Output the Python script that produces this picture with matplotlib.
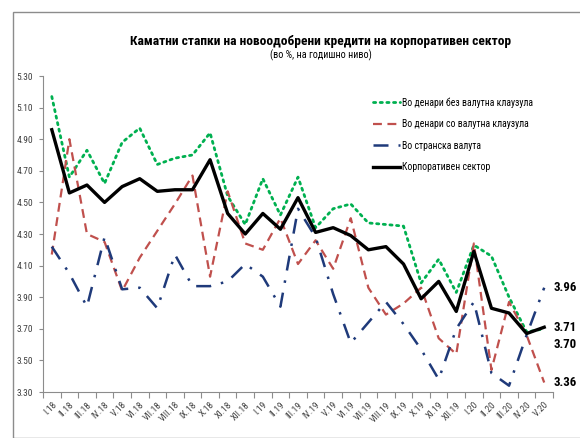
import matplotlib
matplotlib.use("Agg")
import matplotlib.pyplot as plt
import numpy as np
from matplotlib.patches import Rectangle

plt.rcParams['font.family'] = ['Roboto Condensed', 'Roboto', 'DejaVu Sans']

months = ['I.18', 'II.18', 'III.18', 'IV.18', 'V.18', 'VI.18', 'VII.18', 'VIII.18', 'IX.18',
          'X.18', 'XI.18', 'XII.18', 'I.19', 'II.19', 'III.19', 'IV.19', 'V.19', 'VI.19',
          'VII.19', 'VIII.19', 'IX.19', 'X.19', 'XI.19', 'XII.19', 'I.20', 'II.20', 'III.20',
          'IV.20', 'V.20']

denars_no_clause = [5.17, 4.66, 4.83, 4.62, 4.88, 4.97, 4.74, 4.78, 4.80, 4.94, 4.54, 4.36,
                    4.65, 4.42, 4.66, 4.34, 4.46, 4.49, 4.37, 4.36, 4.35, 3.99, 4.14, 3.93,
                    4.23, 4.16, 3.90, 3.68, 3.70]
denars_clause = [4.17, 4.90, 4.30, 4.25, 3.94, 4.15, 4.32, 4.49, 4.67, 4.03, 4.57, 4.24,
                 4.20, 4.40, 4.11, 4.26, 4.08, 4.40, 3.96, 3.79, 3.86, 3.96, 3.64, 3.54,
                 4.24, 3.44, 3.87, 3.66, 3.36]
foreign = [4.22, 4.05, 3.84, 4.28, 3.95, 3.96, 3.83, 4.17, 3.97, 3.97, 4.00, 4.11,
           4.03, 3.84, 4.46, 4.28, 3.92, 3.61, 3.74, 3.87, 3.73, 3.57, 3.38, 3.70,
           3.87, 3.42, 3.34, 3.66, 3.96]
corporate = [4.96, 4.56, 4.61, 4.50, 4.60, 4.65, 4.57, 4.58, 4.58, 4.77, 4.43, 4.30,
             4.43, 4.33, 4.53, 4.31, 4.34, 4.29, 4.20, 4.22, 4.11, 3.89, 4.00, 3.81,
             4.19, 3.83, 3.80, 3.67, 3.71]

labels = ['Во денари без валутна клаузула', 'Во денари со валутна клаузула',
          'Во странска валута', 'Корпоративен сектор']

fig = plt.figure(figsize=(5.8, 4.38), dpi=100)
fig.patches.append(Rectangle((13 / 580, 0), 1.0, 1 - 12 / 438, transform=fig.transFigure,
                             fill=False, edgecolor='#8c8c8c', linewidth=1.0))
ax = fig.add_axes([43 / 580, 1 - 392 / 438, 510 / 580, 316 / 438])

x = np.arange(len(months))
ax.plot(x, denars_no_clause, color='#00b050', lw=2.0, linestyle=(0, (0.8, 1.6)),
        dash_capstyle='round', label=labels[0])
ax.plot(x, denars_clause, color='#c0504d', lw=1.6, linestyle=(0, (4, 2.5)), label=labels[1])
ax.plot(x, foreign, color='#1f3a7a', lw=1.8, linestyle=(0, (6, 4, 1, 4)), label=labels[2])
ax.plot(x, corporate, color='black', lw=2.4, label=labels[3])

ax.set_xlim(-0.5, len(months) - 0.5)
ax.set_ylim(3.30, 5.30)
ax.set_yticks(np.arange(3.30, 5.31, 0.20))
ax.set_yticklabels(['%.2f' % v for v in np.arange(3.30, 5.31, 0.20)])
ax.set_xticks(x)
ax.set_xticklabels(months, rotation=45, ha='right', rotation_mode='anchor')
ax.set_xticks(np.arange(-0.5, len(months), 1.0), minor=True)
ax.tick_params(axis='x', which='major', length=0, labelsize=6.8, labelcolor='#404040', pad=6)
ax.tick_params(axis='x', which='minor', length=4, color='#8c8c8c', width=0.8)
ax.tick_params(axis='y', length=3, color='#8c8c8c', width=0.8, labelsize=6.8,
               labelcolor='#404040', pad=4)
for s in ['top', 'right']:
    ax.spines[s].set_visible(False)
for s in ['left', 'bottom']:
    ax.spines[s].set_color('#8c8c8c')
    ax.spines[s].set_linewidth(0.8)

# end-of-series value labels
ends = [(foreign[-1], 0), (corporate[-1], 0), (denars_no_clause[-1], -11), (denars_clause[-1], 0)]
for val, dy in ends:
    ax.annotate('%.2f' % val, xy=(1.0, val), xycoords=('axes fraction', 'data'),
                xytext=(0.5, dy), textcoords='offset points', ha='left', va='center',
                fontsize=9.3, fontweight='bold', annotation_clip=False)

fig.text(321 / 580, 1 - 42 / 438, 'Каматни стапки на новоодобрени кредити на корпоративен сектор',
         ha='center', va='center', fontsize=9.7, fontweight='bold')
fig.text(321 / 580, 1 - 55 / 438, '(во %, на годишно ниво)', ha='center', va='center', fontsize=7.3)

leg = ax.legend(loc='upper left', bbox_to_anchor=(373 / 580, 1 - 97 / 438),
                bbox_transform=fig.transFigure, frameon=False, fontsize=7,
                handlelength=2.8, handletextpad=0.2, labelspacing=1.2, borderpad=0,
                borderaxespad=0)

fig.savefig('out.png', dpi=100)
